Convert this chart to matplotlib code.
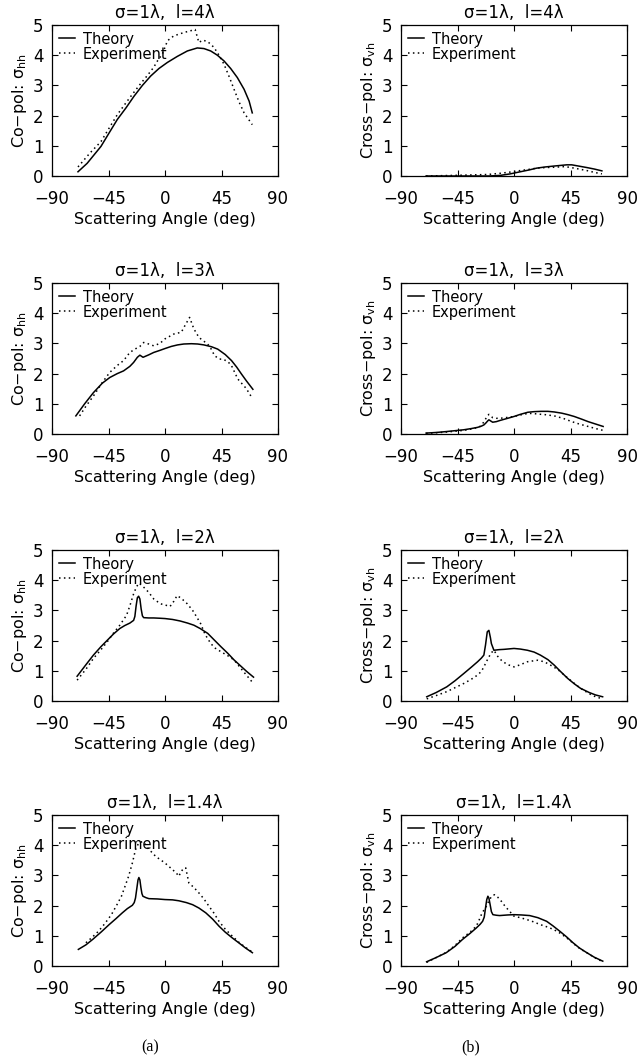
import matplotlib
matplotlib.use("Agg")
import matplotlib.pyplot as plt

plt.rcParams['font.family'] = ['DejaVu Sans']
plt.rcParams['mathtext.fontset'] = 'dejavusans'
plt.rcParams['axes.unicode_minus'] = True

# ---------------- data (angle in deg, sigma values) ----------------
# l = 4 lambda, co-pol
hh4_th_x = [-69.3, -62, -56.5, -51, -44.6, -38, -31, -24.7, -18, -11.4, -4.8, 1.9, 9.8, 17.8, 25.7, 31, 36.4, 41.7, 47, 52.3, 57.6, 63, 67, 69.5]
hh4_th_y = [0.14, 0.42, 0.70, 0.98, 1.42, 1.87, 2.26, 2.64, 3.00, 3.31, 3.56, 3.76, 3.96, 4.14, 4.24, 4.22, 4.14, 4.00, 3.81, 3.56, 3.26, 2.87, 2.48, 2.09]
hh4_ex_x = [-69.3, -60, -51, -44, -38, -31, -25, -19, -14, -9, -6, -2, 2, 7, 15, 24, 27, 30, 34, 39, 43, 47, 51, 55, 59, 63, 67, 69.5]
hh4_ex_y = [0.30, 0.75, 1.14, 1.62, 2.03, 2.43, 2.76, 3.08, 3.33, 3.60, 3.81, 4.05, 4.48, 4.64, 4.75, 4.85, 4.42, 4.50, 4.45, 4.26, 4.00, 3.70, 3.30, 2.87, 2.45, 2.09, 1.85, 1.70]
# l = 4 lambda, cross-pol
vh4_th_x = [-70, -64, -40, -20, -11, -3, 5, 12, 18, 25, 32, 37, 42, 46, 50, 54, 58, 64, 70]
vh4_th_y = [0.0, 0.0, 0.0, 0.0, 0.02, 0.07, 0.14, 0.20, 0.26, 0.30, 0.33, 0.35, 0.37, 0.37, 0.34, 0.31, 0.28, 0.23, 0.17]
vh4_ex_x = [-70, -48, -21, -11, -3, 5, 12, 18, 25, 32, 36, 40, 44, 48, 53, 58, 64, 70]
vh4_ex_y = [0.0, 0.02, 0.05, 0.09, 0.13, 0.18, 0.22, 0.26, 0.28, 0.29, 0.30, 0.31, 0.29, 0.26, 0.22, 0.18, 0.12, 0.07]

# l = 3 lambda, co-pol
hh3_th_x = [-71, -64, -57, -50, -44, -38, -33, -28, -25, -22, -20, -17.5, -13, -9, -4, 0, 5, 10, 15, 21, 26, 31, 37, 42, 48, 53, 57, 61, 65, 70]
hh3_th_y = [0.60, 1.00, 1.37, 1.68, 1.87, 2.00, 2.09, 2.24, 2.37, 2.54, 2.61, 2.54, 2.62, 2.70, 2.77, 2.83, 2.90, 2.95, 2.98, 2.99, 2.98, 2.95, 2.89, 2.81, 2.63, 2.43, 2.22, 1.98, 1.75, 1.48]
hh3_ex_x = [-68, -63, -57, -50, -44, -38, -33, -28, -24, -20, -17, -13, -9, -4, 0, 7, 13, 16, 19.6, 23, 27, 30, 34, 37, 39.5, 43.5, 46, 50, 53, 58, 61, 64, 67, 69]
hh3_ex_y = [0.60, 0.92, 1.26, 1.70, 2.04, 2.27, 2.43, 2.70, 2.81, 2.90, 3.03, 2.98, 2.92, 3.00, 3.15, 3.31, 3.37, 3.60, 3.86, 3.48, 3.20, 3.10, 2.98, 2.80, 2.59, 2.48, 2.48, 2.40, 2.26, 1.82, 1.68, 1.54, 1.36, 1.21]
# l = 3 lambda, cross-pol
vh3_th_x = [-70, -62, -54, -47, -40, -34, -29, -26, -24, -22.5, -21, -20, -18.5, -17, -14, -11, -5, 0, 5, 11, 16, 21.5, 27, 32, 38, 43, 48, 54, 59, 65, 71]
vh3_th_y = [0.03, 0.05, 0.08, 0.11, 0.14, 0.18, 0.22, 0.26, 0.30, 0.36, 0.43, 0.47, 0.43, 0.39, 0.41, 0.45, 0.52, 0.58, 0.65, 0.72, 0.74, 0.75, 0.75, 0.73, 0.69, 0.64, 0.58, 0.49, 0.41, 0.33, 0.25]
vh3_ex_x = [-70, -55, -40, -32, -27, -25, -23, -21.5, -20, -18.5, -17, -14, -11, -5, 0, 5, 11, 15, 19, 25, 32, 39, 46, 52, 59, 65, 71]
vh3_ex_y = [0.02, 0.06, 0.12, 0.18, 0.25, 0.34, 0.47, 0.58, 0.65, 0.60, 0.54, 0.52, 0.52, 0.55, 0.58, 0.63, 0.68, 0.68, 0.66, 0.64, 0.60, 0.52, 0.41, 0.33, 0.25, 0.18, 0.12]

# l = 2 lambda, co-pol
hh2_th_x = [-70, -63, -57, -51, -46, -41, -36, -32, -28, -25, -24, -23, -22, -21, -20, -19, -18, -17, -13, -9, -4, 0, 6, 12, 18, 23, 28, 34, 39, 44.5, 50, 55, 60, 65, 70.5]
hh2_th_y = [0.82, 1.20, 1.52, 1.80, 2.01, 2.22, 2.40, 2.50, 2.58, 2.67, 2.80, 3.15, 3.42, 3.47, 3.38, 3.05, 2.82, 2.76, 2.75, 2.75, 2.74, 2.73, 2.70, 2.65, 2.58, 2.51, 2.40, 2.24, 2.03, 1.80, 1.58, 1.36, 1.17, 0.98, 0.79]
hh2_ex_x = [-70, -63, -57, -51, -46, -41, -36, -30.6, -28, -25, -23, -21, -19, -17, -13, -9, -3.7, 0, 4, 7, 9.6, 13, 17.7, 22, 25, 28.4, 32, 36.5, 40, 44.6, 50, 55, 60, 65, 70]
hh2_ex_y = [0.69, 1.05, 1.41, 1.70, 1.96, 2.25, 2.51, 2.84, 3.15, 3.55, 3.75, 3.90, 3.85, 3.77, 3.60, 3.38, 3.22, 3.18, 3.13, 3.30, 3.49, 3.40, 3.22, 3.00, 2.80, 2.56, 2.20, 1.90, 1.75, 1.63, 1.50, 1.36, 1.10, 0.85, 0.60]
# l = 2 lambda, cross-pol
vh2_th_x = [-69.5, -62, -53.5, -47, -40, -34, -29, -26, -24, -22.7, -21.3, -20, -18.8, -18, -16, -12, -8, 0, 5, 10.7, 16, 21, 27, 32, 37, 42.7, 48, 53, 60, 65, 70.6]
vh2_th_y = [0.14, 0.28, 0.47, 0.67, 0.91, 1.12, 1.30, 1.42, 1.52, 1.85, 2.29, 2.34, 2.10, 1.90, 1.68, 1.70, 1.71, 1.74, 1.72, 1.68, 1.62, 1.52, 1.37, 1.19, 0.98, 0.75, 0.57, 0.42, 0.28, 0.20, 0.14]
vh2_ex_x = [-69.5, -62, -53.5, -47, -40, -34, -29, -26, -24, -22, -20, -18, -16, -13, -9, -4, 0, 5, 10.7, 18.7, 24, 29, 35, 40, 46, 53, 60, 65, 70.6]
vh2_ex_y = [0.07, 0.18, 0.31, 0.44, 0.58, 0.72, 0.86, 0.98, 1.13, 1.30, 1.46, 1.60, 1.68, 1.48, 1.30, 1.19, 1.13, 1.20, 1.30, 1.35, 1.30, 1.19, 1.04, 0.86, 0.65, 0.42, 0.24, 0.14, 0.07]

# l = 1.4 lambda, co-pol
hh14_th_x = [-69, -63, -57.6, -51, -44.5, -39, -34, -30, -26, -24.5, -23.5, -22.5, -21.5, -20.8, -20, -19.2, -18.4, -17.6, -15, -12.8, -6, 0, 6, 11, 17, 22, 27, 32.5, 38, 43, 48, 53.6, 59, 64, 69.6]
hh14_th_y = [0.55, 0.70, 0.88, 1.12, 1.37, 1.57, 1.76, 1.90, 2.01, 2.10, 2.25, 2.55, 2.85, 2.93, 2.85, 2.60, 2.40, 2.31, 2.26, 2.23, 2.22, 2.20, 2.19, 2.16, 2.10, 2.03, 1.92, 1.76, 1.55, 1.32, 1.12, 0.93, 0.76, 0.60, 0.44]
hh14_ex_x = [-63, -58, -53, -48, -42.7, -38, -34.7, -32, -29, -26, -23.5, -21, -18, -15, -12.8, -10, -7.5, -3, 0, 3, 6, 9, 11, 12.5, 14.5, 16.5, 19, 23, 27, 31, 35, 39, 43, 48, 53.6, 59, 64, 69.6]
hh14_ex_y = [0.77, 0.95, 1.15, 1.40, 1.70, 2.05, 2.31, 2.62, 2.97, 3.41, 3.85, 4.07, 4.12, 4.00, 3.85, 3.75, 3.63, 3.50, 3.41, 3.30, 3.19, 3.08, 2.97, 3.10, 3.22, 3.25, 2.75, 2.60, 2.42, 2.22, 1.98, 1.75, 1.48, 1.22, 0.99, 0.78, 0.62, 0.46]
# l = 1.4 lambda, cross-pol
vh14_th_x = [-69.6, -62, -54, -47, -41, -35, -30, -27, -25, -23.7, -22.7, -21.7, -20.8, -20, -19, -18, -16.8, -14, -11.5, -5, 0, 6, 12.5, 19, 26, 31, 36.5, 42, 47, 52, 58, 64, 70.7]
vh14_th_y = [0.14, 0.28, 0.44, 0.65, 0.88, 1.08, 1.26, 1.38, 1.48, 1.62, 1.92, 2.20, 2.31, 2.25, 2.03, 1.80, 1.70, 1.68, 1.67, 1.69, 1.70, 1.69, 1.67, 1.60, 1.48, 1.33, 1.15, 0.96, 0.77, 0.60, 0.44, 0.29, 0.16]
vh14_ex_x = [-69.6, -62, -54, -47, -41, -35, -30, -28, -26, -24, -22, -19.5, -17.5, -15.5, -13, -10, -7.5, -4.8, 0, 5, 10, 15, 21, 26, 31.5, 37, 42, 48, 53, 58, 64, 70.7]
vh14_ex_y = [0.12, 0.28, 0.45, 0.68, 0.93, 1.12, 1.32, 1.50, 1.70, 1.85, 1.98, 2.20, 2.32, 2.36, 2.28, 2.14, 2.00, 1.87, 1.65, 1.60, 1.54, 1.47, 1.37, 1.30, 1.21, 1.08, 0.93, 0.72, 0.56, 0.44, 0.28, 0.14]

titles = ["σ=1λ,  l=4λ", "σ=1λ,  l=3λ", "σ=1λ,  l=2λ", "σ=1λ,  l=1.4λ"]
xticks = [-90, -45, 0, 45, 90]
yticks = [0, 1, 2, 3, 4, 5]
col_ylabels = ["Co−pol: σ$_{\\rm hh}$", "Cross−pol: σ$_{\\rm vh}$"]
series_names = ["Theory", "Experiment"]
panel_letters = ["(a)", "(b)"]

panels = [
    [(hh4_th_x, hh4_th_y, hh4_ex_x, hh4_ex_y), (vh4_th_x, vh4_th_y, vh4_ex_x, vh4_ex_y)],
    [(hh3_th_x, hh3_th_y, hh3_ex_x, hh3_ex_y), (vh3_th_x, vh3_th_y, vh3_ex_x, vh3_ex_y)],
    [(hh2_th_x, hh2_th_y, hh2_ex_x, hh2_ex_y), (vh2_th_x, vh2_th_y, vh2_ex_x, vh2_ex_y)],
    [(hh14_th_x, hh14_th_y, hh14_ex_x, hh14_ex_y), (vh14_th_x, vh14_th_y, vh14_ex_x, vh14_ex_y)],
]

# ---------------- layout ----------------
W, H = 639, 1057
fig = plt.figure(figsize=(W / 100, H / 100), dpi=100)
col_left = [52, 401]
ax_w = 226
row_top = [25, 283, 550, 815]
ax_h = 151
letter_x = [150, 471]

for r in range(4):
    for c in range(2):
        l = col_left[c] / W
        b = 1 - (row_top[r] + ax_h) / H
        ax = fig.add_axes([l, b, ax_w / W, ax_h / H])
        tx, ty, ex, ey = panels[r][c]
        ax.plot(tx, ty, color='black', lw=1.1, ls='-', label=series_names[0])
        ax.plot(ex, ey, color='black', lw=1.1, ls=(0, (1, 2.2)), label=series_names[1])
        ax.set_xlim(-90, 90)
        ax.set_ylim(0, 5)
        ax.set_xticks(xticks)
        ax.set_yticks(yticks)
        ax.tick_params(axis='both', direction='in', length=4, width=0.8,
                       top=True, right=True, labelsize=12)
        ax.tick_params(axis='x', pad=10)
        ax.tick_params(axis='y', pad=6)
        for sp in ax.spines.values():
            sp.set_linewidth(0.9)
        ax.set_title(titles[r], fontsize=12, pad=5)
        ax.set_xlabel("Scattering Angle (deg)", fontsize=11.5, labelpad=3)
        ax.set_ylabel(col_ylabels[c], fontsize=11.5, labelpad=3)
        ax.legend(loc='upper left', frameon=False, fontsize=10.5, handlelength=1.1,
                  handletextpad=0.55, borderaxespad=0.1, labelspacing=0.0,
                  borderpad=0.35)

for c in range(2):
    fig.text(letter_x[c] / W, 1 - 1047 / H, panel_letters[c], ha='center',
             va='center', fontsize=11.5, family='Liberation Serif')

fig.savefig("out.png", dpi=100)
